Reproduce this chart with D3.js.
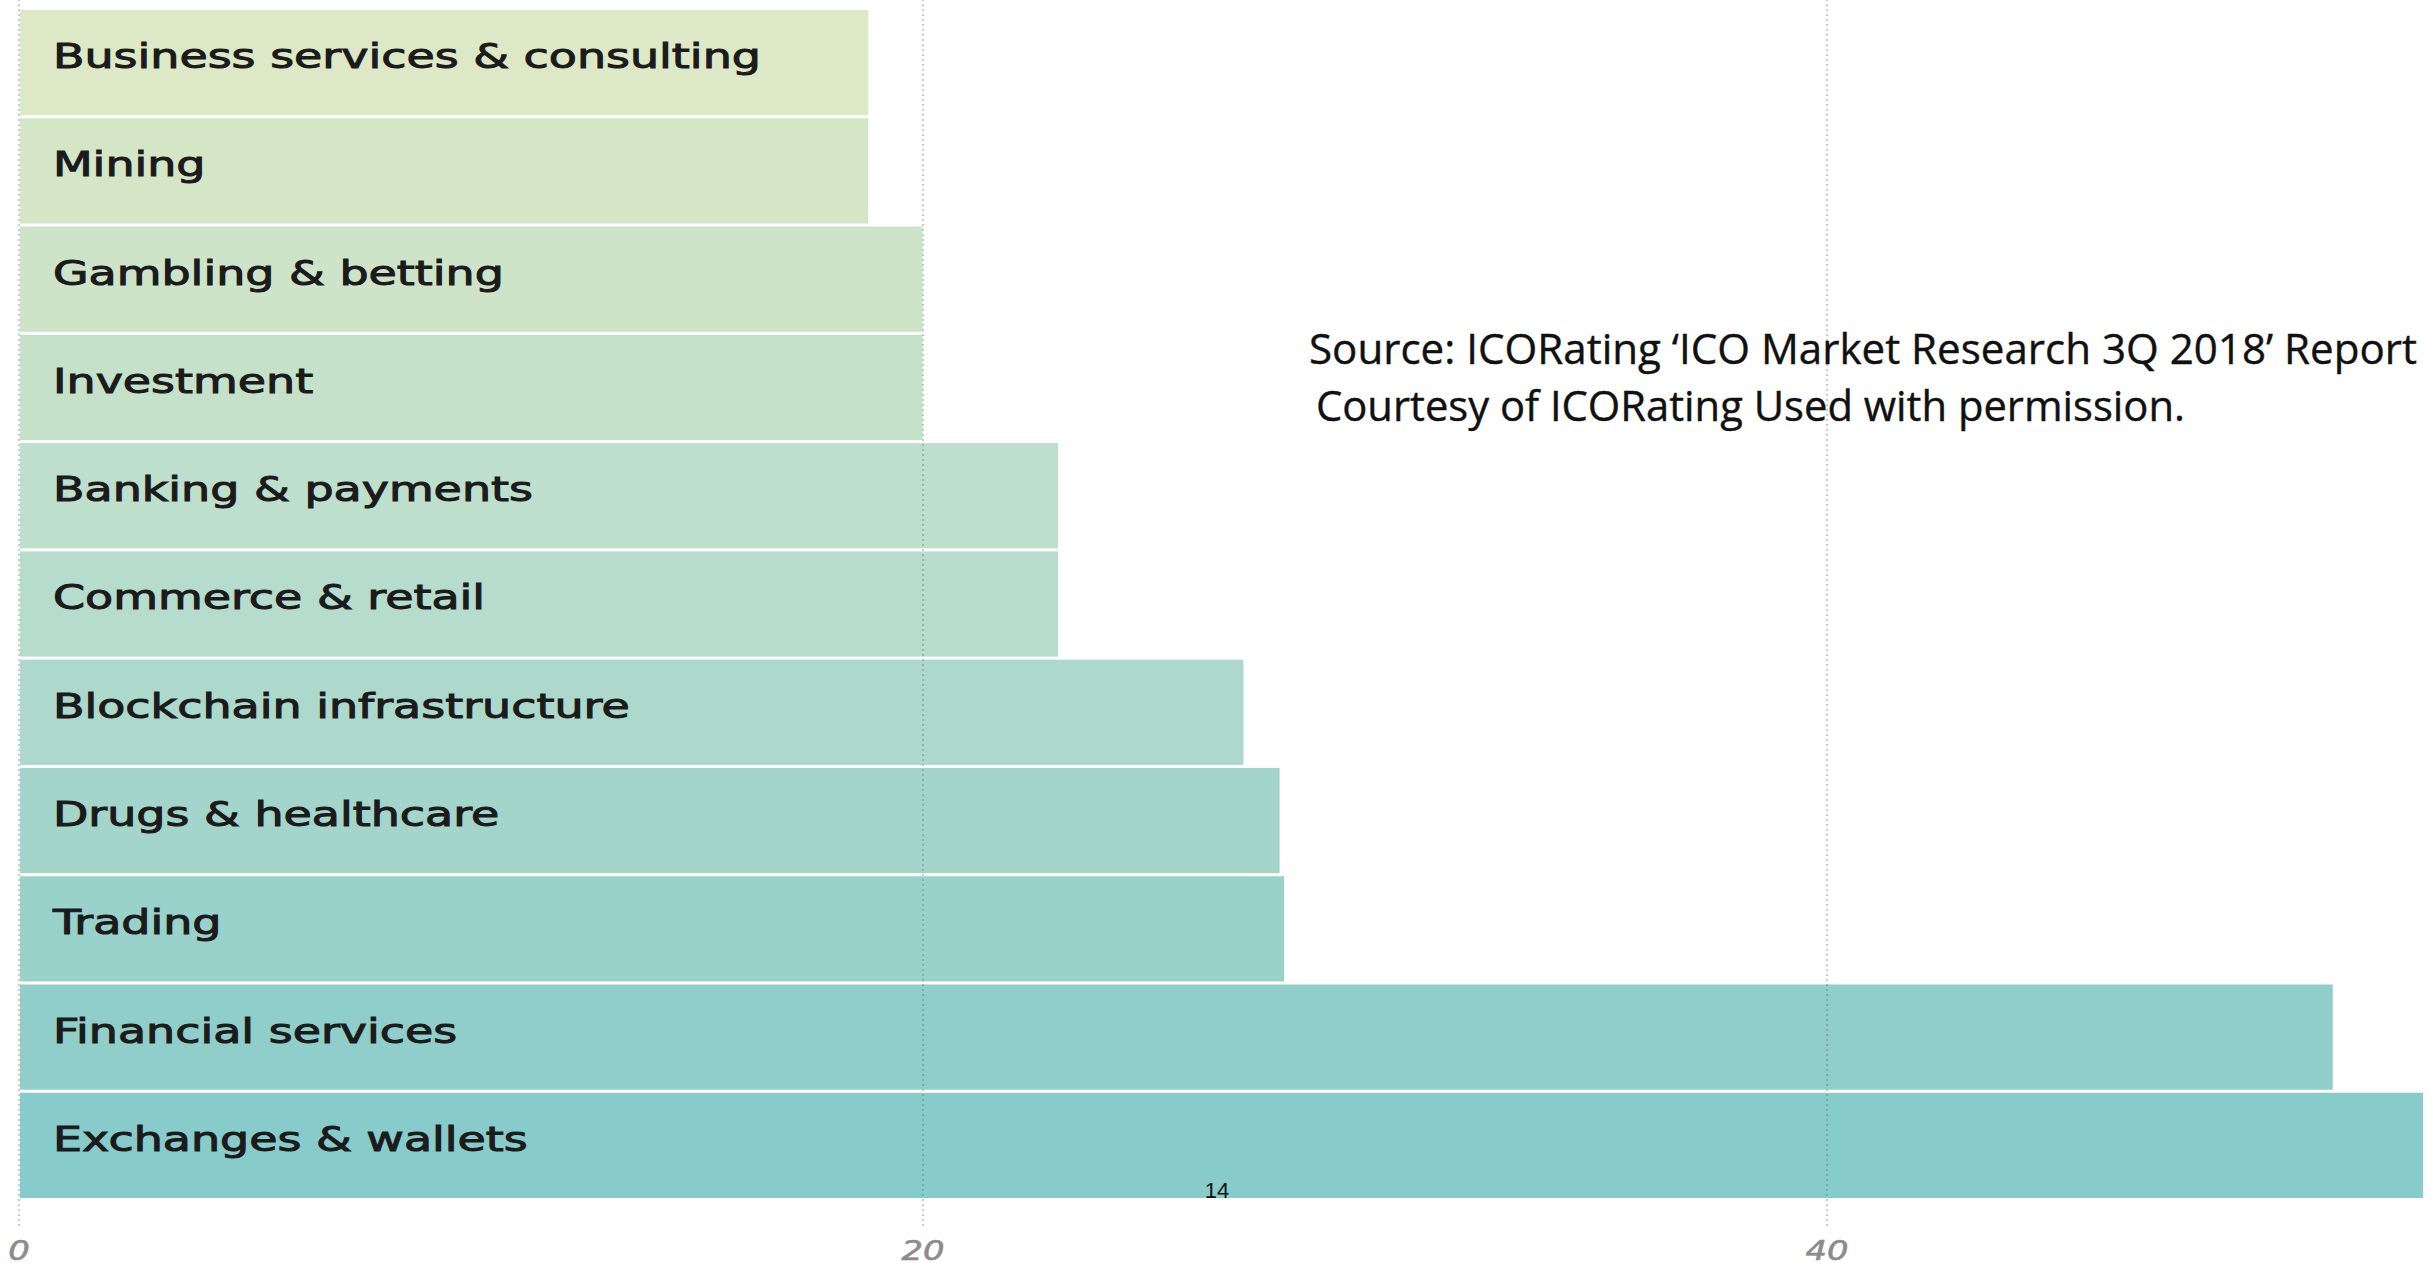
<!DOCTYPE html>
<html><head><meta charset="utf-8">
<script src="https://cdn.jsdelivr.net/npm/d3@7"></script>
<style>html,body{margin:0;padding:0;background:#fff;overflow:hidden}</style>
</head><body><svg id="c" width="2433" height="1267"></svg>
<script>
// ---- data ----
const categories = ["Business services & consulting","Mining","Gambling & betting","Investment","Banking & payments","Commerce & retail","Blockchain infrastructure","Drugs & healthcare","Trading","Financial services","Exchanges & wallets"];
const values = [18.8, 18.8, 20.0, 20.0, 23.0, 23.0, 27.1, 27.9, 28.0, 51.2, 53.2];
const tickValues = [0, 20, 40];
const sourceLines = ["Source: ICORating \u2018ICO Market Research 3Q 2018\u2019 Report", "Courtesy of ICORating Used with permission."];
const pageNumber = "14";

// ---- style ----
const palette = ["#dde9c6", "#b5dccc", "#87cbca"];

const W = 2433, H = 1267;
const svg = d3.select("#c");
svg.append("rect").attr("width", W).attr("height", H).attr("fill", "#fff");

const x = d3.scaleLinear().domain([0, 40]).range([18.5, 1826.5]);
const y = d3.scaleBand().domain(categories).range([10, 1198]).paddingInner(0.028).paddingOuter(0);
const color = d3.scaleLinear().domain([0, 5, 10]).range(palette).interpolate(d3.interpolateRgb);

const data = categories.map((c, i) => ({c, v: values[i], i}));

// bars
svg.append("g").selectAll("rect").data(data).join("rect")
  .attr("x", x(0) + 1.5)
  .attr("y", d => y(d.c))
  .attr("width", d => x(d.v) - x(0) - 1.5)
  .attr("height", y.bandwidth())
  .attr("fill", d => color(d.i));

// axis + dotted gridlines
const axisY = 1226;
const axis = d3.axisBottom(x).tickValues(tickValues).tickSize(-axisY).tickPadding(15).tickFormat(d3.format("d"));
const ag = svg.append("g").attr("transform", `translate(0,${axisY})`).call(axis);
ag.select(".domain").remove();
ag.selectAll(".tick line").attr("stroke", "rgba(90,110,110,0.45)").attr("stroke-width", 1.5).attr("stroke-dasharray", "2,3");
ag.selectAll(".tick text")
  .attr("fill", "#8c8c8c")
  .attr("stroke", "#8c8c8c").attr("stroke-width", 0.6)
  .style("font-family", "'DejaVu Sans', sans-serif")
  .style("font-style", "italic")
  .style("font-size", "27px")
  .attr("transform", "scale(1.25,1)");

// category labels
const lab = svg.append("g").selectAll("text").data(data).join("text")
  .attr("x", 53)
  .attr("y", d => y(d.c) + y.bandwidth() / 2 + 5.5)
  .attr("fill", "#1b1b1b")
  .attr("stroke", "#1b1b1b").attr("stroke-width", 1.0)
  .style("font-family", "'DejaVu Sans', sans-serif")
  .style("font-size", "34px")
  .text(d => d.c);
// horizontal stretch to match the reference's wide lettering
const natural = lab.nodes()[0].getComputedTextLength();
const sx = 708 / natural;
lab.attr("transform", function() {
  const tx = +this.getAttribute("x");
  return `translate(${tx},0) scale(${sx},1) translate(${-tx},0)`;
});

// source note
const srcPos = [{x: 1309, y: 364, len: 1108}, {x: 1316, y: 421, len: 869}];
svg.append("g").selectAll("text").data(sourceLines).join("text")
  .attr("x", (d, i) => srcPos[i].x)
  .attr("y", (d, i) => srcPos[i].y)
  .attr("textLength", (d, i) => srcPos[i].len)
  .attr("lengthAdjust", "spacingAndGlyphs")
  .attr("fill", "#111")
  .attr("stroke", "#111").attr("stroke-width", 0.4)
  .style("font-family", "'Liberation Sans Narrow', 'Open Sans', sans-serif")
  .style("font-size", "42px")
  .text(d => d);

// page number
svg.append("text")
  .attr("x", 1217).attr("y", 1198)
  .attr("text-anchor", "middle")
  .attr("fill", "#111")
  .style("font-family", "'Liberation Sans', Arial, sans-serif")
  .style("font-size", "22px")
  .text(pageNumber);
</script>
</body></html>
